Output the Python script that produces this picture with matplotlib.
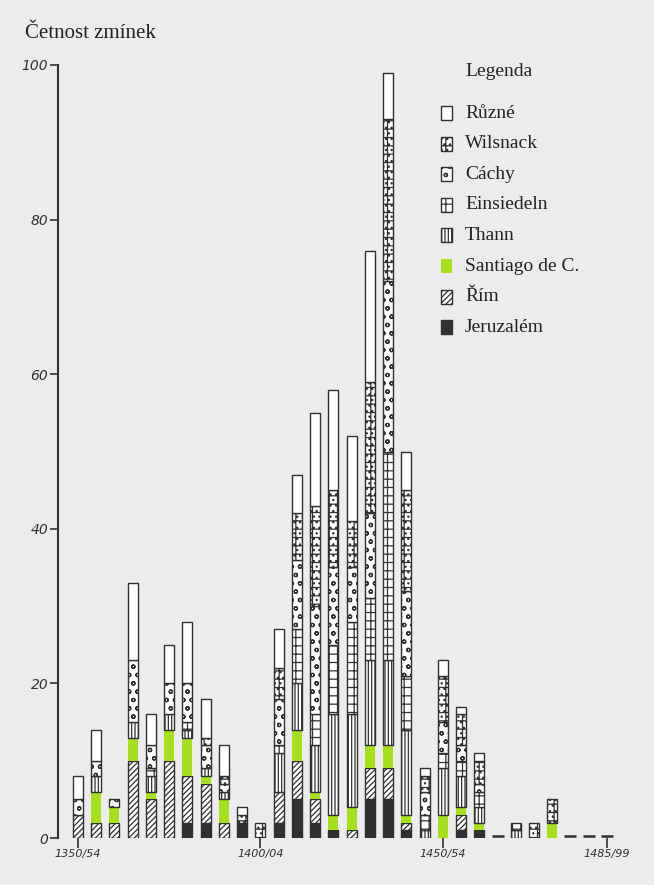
import numpy as np
import matplotlib as mpl
mpl.use('agg')
import matplotlib.pyplot as plt
from matplotlib.patches import Rectangle

# 5-year periods 1350/54 ... 1495/99, counts of mentions per pilgrimage place
jeruzalem  = [0, 0, 0, 0, 0, 0, 2, 2, 0, 2, 0, 2, 5, 2, 1, 0, 5, 5, 1, 0, 0, 1, 1, 0, 0, 0, 0, 0, 0, 0]
rim        = [3, 2, 2, 10, 5, 10, 6, 5, 2, 0, 0, 4, 5, 3, 0, 1, 4, 4, 1, 0, 0, 2, 0, 0, 0, 0, 0, 0, 0, 0]
santiago   = [0, 4, 2, 3, 1, 4, 5, 1, 3, 0, 0, 0, 4, 1, 2, 3, 3, 3, 1, 0, 3, 1, 1, 0, 0, 0, 2, 0, 0, 0]
thann      = [0, 2, 0, 2, 2, 2, 1, 1, 1, 0, 0, 5, 6, 6, 13, 12, 11, 11, 11, 1, 6, 4, 2, 0, 1, 0, 0, 0, 0, 0]
einsiedeln = [0, 0, 0, 0, 1, 0, 1, 0, 0, 0, 0, 1, 7, 4, 9, 12, 8, 27, 7, 2, 2, 2, 2, 0, 1, 0, 0, 0, 0, 0]
cachy      = [2, 2, 1, 8, 3, 4, 5, 3, 1, 0, 0, 6, 9, 14, 10, 7, 11, 22, 11, 3, 4, 2, 1, 0, 0, 0, 0, 0, 0, 0]
wilsnack   = [0, 0, 0, 0, 0, 0, 0, 1, 1, 1, 2, 4, 6, 13, 10, 6, 17, 21, 13, 2, 6, 4, 3, 0, 0, 2, 3, 0, 0, 0]
ruzne      = [3, 4, 0, 10, 4, 5, 8, 5, 4, 1, 0, 5, 5, 12, 13, 11, 17, 6, 5, 1, 2, 1, 1, 0, 0, 0, 0, 0, 0, 0]

tick_idx = [0, 10, 20, 29]
tick_labels = ['1350/54', '1400/04', '1450/54', '1485/99']

bg = '#ececef'
ink = '#303030'
green = '#a6e01c'

mpl.rcParams['hatch.linewidth'] = 0.9
mpl.rcParams['hatch.color'] = ink

# name, values, face, hatch  (bottom -> top)
series = [
    ('Jeruzalém', jeruzalem, ink, ''),
    ('Řím', rim, 'white', '//////'),
    ('Santiago de C.', santiago, green, ''),
    ('Thann', thann, 'white', '|||||'),
    ('Einsiedeln', einsiedeln, 'white', '++'),
    ('Cáchy', cachy, 'white', 'oo'),
    ('Wilsnack', wilsnack, 'white', '++...'),
    ('Různé', ruzne, 'white', ''),
]

fig = plt.figure(figsize=(6.54, 8.85), dpi=100, facecolor=bg)
ax = fig.add_axes([58/654, 47/885, 582/654, 773/885])
ax.set_facecolor('none')

x = np.arange(len(ruzne))
bottom = np.zeros(len(x))
for name, vals, fc, h in series:
    v = np.array(vals, dtype=float)
    m = v > 0
    ec = green if fc == green else ink
    ax.bar(x[m], v[m], bottom=bottom[m], width=0.55, color=fc, edgecolor=ec,
           hatch=h, linewidth=1.0 if fc != green else 0)
    bottom += v

# periods with no mentions drawn as short dashes
zero = bottom == 0
ax.plot(x[zero], np.full(zero.sum(), 0.25), ls='none', marker='_', ms=8,
        mew=1.8, color=ink, clip_on=False)

ax.set_xlim((58 - 78) / 18.24, (640 - 78) / 18.24)
ax.set_ylim(0, 100)
for s in ['top', 'right', 'bottom']:
    ax.spines[s].set_visible(False)
ax.spines['left'].set_color(ink)
ax.spines['left'].set_linewidth(1.5)

ax.set_yticks([0, 20, 40, 60, 80, 100])
ax.tick_params(axis='y', length=6, width=1.2, color=ink, pad=1,
               labelsize=10, labelcolor=ink)
ax.set_xticks(tick_idx, tick_labels)
ax.tick_params(axis='x', length=7, width=1.2, color=ink, pad=1,
               labelsize=8, labelcolor=ink)
for lab in ax.get_xticklabels() + ax.get_yticklabels():
    lab.set_family(['Liberation Sans Narrow', 'DejaVu Sans'])
    lab.set_style('italic')

fig.text(25/654, 1 - 33/885, 'Četnost zmínek', family='Liberation Serif',
         fontsize=15, color='#222222', va='center', ha='left')

# legend, top to bottom
fig.text(465/654, 1 - 72/885, 'Legenda', family='Liberation Serif',
         fontsize=14, color='#222222', va='center', ha='left')
for k, (name, vals, fc, h) in enumerate(series[::-1]):
    yc = 113 + 30.6 * k
    ec = green if fc == green else ink
    fig.add_artist(Rectangle((441/654, 1 - (yc + 7)/885), 11/654, 14/885,
                             transform=fig.transFigure, facecolor=fc,
                             edgecolor=ec, hatch=h,
                             linewidth=1.0 if fc != green else 0))
    fig.text(465/654, 1 - yc/885, name, family='Liberation Serif',
             fontsize=14, color='#222222', va='center', ha='left')

fig.savefig('out.png', dpi=100, facecolor=bg)
